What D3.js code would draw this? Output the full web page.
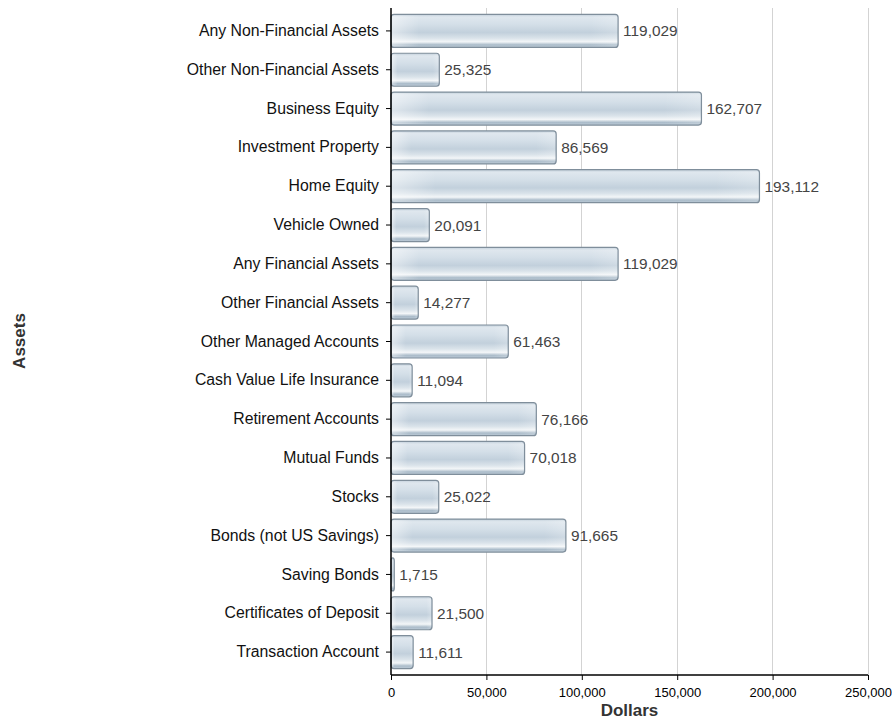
<!DOCTYPE html>
<html><head><meta charset="utf-8">
<script src="https://cdn.jsdelivr.net/npm/d3@7"></script>
<style>body{margin:0;background:#fff;} text{font-family:"Liberation Sans",Arial,sans-serif;}</style>
</head><body><svg id="c" width="892" height="721"></svg>
<script>
const categories = ["Any Non-Financial Assets","Other Non-Financial Assets","Business Equity","Investment Property","Home Equity","Vehicle Owned","Any Financial Assets","Other Financial Assets","Other Managed Accounts","Cash Value Life Insurance","Retirement Accounts","Mutual Funds","Stocks","Bonds (not US Savings)","Saving Bonds","Certificates of Deposit","Transaction Account"];
const values = [119029,25325,162707,86569,193112,20091,119029,14277,61463,11094,76166,70018,25022,91665,1715,21500,11611];
const xTicks = [0,50000,100000,150000,200000,250000];

(function(){
const FF = '"Liberation Sans",Arial,sans-serif';
const svg = d3.select("#c");
const pL = 391, pR = 868, pT = 8, pB = 675;
const x = d3.scaleLinear().domain([0,250000]).range([pL,pR]);
const y = d3.scaleBand().domain(categories).range([11.5,671.5]).paddingInner(0.15).paddingOuter(0.075);

const defs = svg.append("defs");
const g = defs.append("linearGradient").attr("id","gl").attr("x1",0).attr("y1",0).attr("x2",0).attr("y2",1);
[[0,"#c3d0db"],[0.08,"#dfe7ee"],[0.3,"#d4dfe8"],[0.55,"#c2d0dc"],[0.72,"#dae3ea"],[0.83,"#f3f6f8"],[0.92,"#abbcca"],[1,"#bccad6"]]
 .forEach(s=>g.append("stop").attr("offset",s[0]).attr("stop-color",s[1]));
const gh = defs.append("linearGradient").attr("id","gh").attr("x1",0).attr("y1",0).attr("x2",1).attr("y2",0);
[[0,"#ffffff",0.45],[0.12,"#ffffff",0.0],[0.88,"#ffffff",0],[1,"#ffffff",0.2]]
 .forEach(s=>gh.append("stop").attr("offset",s[0]).attr("stop-color",s[1]).attr("stop-opacity",s[2]));

svg.append("g").selectAll("line").data(xTicks.slice(1)).join("line")
 .attr("x1",d=>x(d)).attr("x2",d=>x(d)).attr("y1",pT).attr("y2",pB)
 .attr("stroke","#d3d3d3").attr("stroke-width",1).attr("shape-rendering","crispEdges");

const bars = svg.append("g");
bars.selectAll("rect.b").data(values).join("rect").attr("class","b")
 .attr("x",x(0)).attr("y",(d,i)=>y(categories[i])).attr("width",d=>x(d)-x(0)).attr("height",y.bandwidth())
 .attr("rx",3).attr("fill","url(#gl)").attr("stroke","#7f8e9b").attr("stroke-width",1.2);
bars.selectAll("rect.h").data(values).join("rect").attr("class","h")
 .attr("x",x(0)+1).attr("y",(d,i)=>y(categories[i])+1).attr("width",d=>Math.max(0,x(d)-x(0)-2)).attr("height",y.bandwidth()-2)
 .attr("rx",2).attr("fill","url(#gh)");

svg.append("g").selectAll("text").data(values).join("text")
 .attr("x",d=>x(d)+5).attr("y",(d,i)=>y(categories[i])+y.bandwidth()/2+5.5)
 .attr("font-size",15.4).attr("fill","#444").text(d=>d3.format(",")(d));

const ya = svg.append("g").attr("transform",`translate(${pL},0)`)
 .call(d3.axisLeft(y).tickSize(5).tickPadding(7));
ya.select(".domain").remove();
ya.selectAll("text").attr("font-size",15.8).attr("fill","#111").style("font-family",FF);
ya.selectAll("line").attr("stroke","#000");
svg.append("line").attr("x1",pL).attr("x2",pL).attr("y1",pT).attr("y2",pB).attr("stroke","#000").attr("stroke-width",1.5);

const xa = svg.append("g").attr("transform",`translate(0,${pB})`)
 .call(d3.axisBottom(x).tickValues(xTicks).tickFormat(d3.format(",")).tickSize(5).tickPadding(8));
xa.select(".domain").remove();
xa.selectAll("text").attr("font-size",13).attr("fill","#000").style("font-family",FF);
xa.selectAll("line").attr("stroke","#000");
svg.append("line").attr("x1",pL).attr("x2",pR).attr("y1",pB).attr("y2",pB).attr("stroke","#000").attr("stroke-width",1.5);

svg.append("text").attr("x",(pL+pR)/2).attr("y",716).attr("text-anchor","middle")
 .attr("font-size",17).attr("font-weight","bold").attr("fill","#333").text("Dollars");
svg.append("text").attr("transform",`translate(25,341) rotate(-90)`).attr("text-anchor","middle")
 .attr("font-size",17).attr("font-weight","bold").attr("fill","#333").text("Assets");
})();
</script></body></html>
